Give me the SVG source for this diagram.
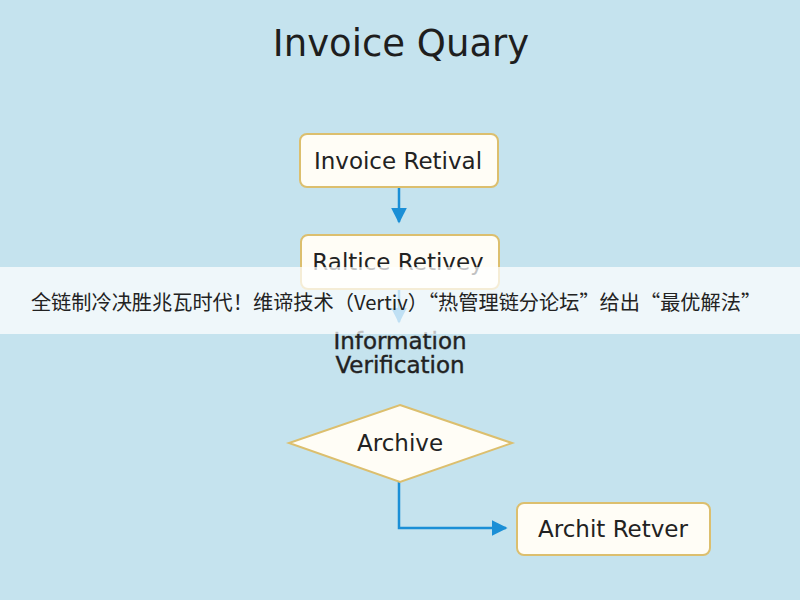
<svg xmlns="http://www.w3.org/2000/svg" width="800" height="600" viewBox="0 0 800 600">
<style>
.bg{fill:#c5e3ee}
.box{fill:#fffdf6;stroke:#dcbf6e;stroke-width:2}
.lbl{font-family:"DejaVu Sans","Open Sans",sans-serif;font-size:23px;fill:#222;text-anchor:middle;dominant-baseline:central}
.title{font-family:"DejaVu Sans","Open Sans",sans-serif;font-size:37px;fill:#1e1e1e;text-anchor:middle}
.conn{fill:none;stroke:#1b8fd6;stroke-width:2.5}
.banner{fill:#ffffff;fill-opacity:0.72}
.btxt{font-family:"Noto Sans CJK SC","Liberation Sans",sans-serif;font-size:20.2px;fill:#222;text-anchor:middle;dominant-baseline:central}
</style>
<defs>
<marker id="ah2" viewBox="0 0 10 10" refX="9" refY="5" markerWidth="16" markerHeight="16" markerUnits="userSpaceOnUse" orient="auto">
<path d="M0,0 L10,5 L0,10 z" fill="#1b8fd6"/>
</marker>
</defs>
<rect class="bg" x="0" y="0" width="800" height="600"/>
<text class="title" x="401" y="56">Invoice Quary</text>
<g id="connectors">
<path class="conn" d="M399,188 V222" marker-end="url(#ah2)"/>
<path class="conn" d="M399,290 V322" marker-end="url(#ah2)"/>
<path class="conn" d="M399,482 V528 H506" marker-end="url(#ah2)"/>
</g>
<g id="n1">
<rect class="box" x="300" y="134" width="198" height="53" rx="7"/>
<text class="lbl" x="398" y="161">Invoice Retival</text>
</g>
<g id="n2">
<rect class="box" x="301" y="235" width="198" height="54" rx="7"/>
<text class="lbl" x="398" y="262">Raltice Retivey</text>
</g>
<g id="n3">
<text class="lbl" x="400" y="341" font-size="24.5" stroke="#222" stroke-width="0.4">Information</text>
<text class="lbl" x="400" y="365" font-size="24.5" stroke="#222" stroke-width="0.4">Verification</text>
</g>
<g id="n4">
<polygon class="box" points="400,405 512,443 400,482 289,443"/>
<text class="lbl" x="400" y="443">Archive</text>
</g>
<g id="n5">
<rect class="box" x="517" y="503" width="193" height="52" rx="7"/>
<text class="lbl" x="613" y="529">Archit Retver</text>
</g>
<rect class="banner" x="0" y="267" width="800" height="67"/>
<text class="btxt" x="396" y="301">全链制冷决胜兆瓦时代！维谛技术（Vertiv）“热管理链分论坛”给出“最优解法”</text>
</svg>
